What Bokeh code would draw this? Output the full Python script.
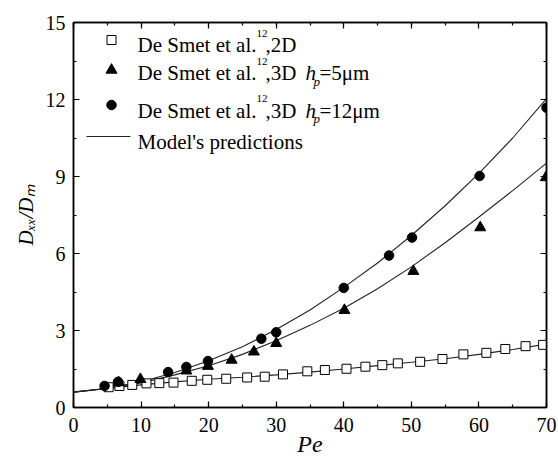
from bokeh.embed import file_html
from bokeh.models import (CustomJSTickFormatter, Label, LinearAxis, Range1d,
                          SingleIntervalTicker)
from bokeh.plotting import figure
from bokeh.resources import INLINE

# ---- measured dispersion data (De Smet et al.) ----
pe_2d = [5.2, 6.8, 8.7, 10.8, 12.7, 14.8, 17.5, 19.8, 22.6, 25.7, 28.3, 31.0,
         34.6, 37.2, 40.4, 43.2, 45.7, 48.0, 51.3, 54.6, 57.7, 61.1, 63.9,
         66.9, 69.5]
d_2d = [0.79, 0.84, 0.88, 0.94, 0.95, 0.97, 1.04, 1.08, 1.12, 1.17, 1.20,
        1.29, 1.41, 1.46, 1.51, 1.59, 1.65, 1.72, 1.78, 1.89, 2.07, 2.13,
        2.28, 2.39, 2.44]

pe_3d5 = [6.7, 9.9, 16.7, 19.9, 23.4, 26.7, 30.0, 40.1, 50.3, 60.2, 69.9]
d_3d5 = [0.97, 1.10, 1.43, 1.61, 1.85, 2.17, 2.50, 3.79, 5.31, 7.01, 8.96]

pe_3d12 = [4.6, 6.6, 14.0, 16.7, 19.9, 27.8, 30.0, 40.0, 46.7, 50.1, 60.1, 70.0]
d_3d12 = [0.84, 1.00, 1.38, 1.58, 1.81, 2.68, 2.93, 4.66, 5.92, 6.62, 9.02, 11.68]

# ---- model predictions ----
pe_model = [0, 5, 10, 15, 20, 25, 30, 35, 40, 45, 50, 55, 60, 65, 70]
model_2d = [0.60, 0.74, 0.88, 1.00, 1.10, 1.18, 1.27, 1.38, 1.50, 1.63, 1.76,
            1.90, 2.07, 2.26, 2.47]
model_3d5 = [0.60, 0.74, 0.96, 1.27, 1.63, 2.07, 2.60, 3.20, 3.87, 4.63, 5.48,
             6.42, 7.42, 8.45, 9.52]
model_3d12 = [0.60, 0.75, 1.00, 1.36, 1.82, 2.37, 3.04, 3.80, 4.68, 5.63, 6.70,
              7.86, 9.12, 10.50, 12.03]

x_ticks_step = 10
y_ticks_step = 3
x_title = "Pe"
y_title = "D\u2093\u2093/D\u2098"      # D_xx / D_m

SERIF = "Liberation Serif"

W, H = 558, 459
LEFT, RIGHT, TOP, BOTTOM = 73, 12, 22, 52
X_MAX, Y_MAX = 70, 15
FW, FH = W - LEFT - RIGHT, H - TOP - BOTTOM


def dx(px):
    """page x pixel -> data x"""
    return (px - LEFT) / FW * X_MAX


def dy(py):
    """page y pixel -> data y"""
    return (H - BOTTOM - py) / FH * Y_MAX


p = figure(width=W, height=H, output_backend="svg", toolbar_location=None,
           x_range=Range1d(0, X_MAX), y_range=Range1d(0, Y_MAX),
           min_border_left=LEFT, min_border_right=RIGHT,
           min_border_top=TOP, min_border_bottom=BOTTOM)
p.background_fill_color = "white"
p.border_fill_color = "white"
p.grid.visible = False
p.outline_line_color = "black"
p.outline_line_width = 1.5

xt = SingleIntervalTicker(interval=x_ticks_step, num_minor_ticks=2)
yt = SingleIntervalTicker(interval=y_ticks_step, num_minor_ticks=2)


def style_axis(ax, labels=True, standoff=8):
    ax.axis_line_color = "black"
    ax.axis_line_width = 1.5
    ax.major_tick_line_color = "black"
    ax.minor_tick_line_color = "black"
    ax.major_tick_line_width = 1.2
    ax.minor_tick_line_width = 1.2
    ax.major_tick_in = 6
    ax.major_tick_out = 0
    ax.minor_tick_in = 3
    ax.minor_tick_out = 0
    if labels:
        ax.major_label_text_font = SERIF
        ax.major_label_text_font_size = "20px"
        ax.major_label_text_color = "black"
        ax.major_label_standoff = standoff
        ax.axis_label_text_font = SERIF
        ax.axis_label_text_color = "black"
        ax.axis_label_text_font_style = "italic"
    else:
        ax.formatter = CustomJSTickFormatter(code="return ''")
        ax.major_label_standoff = 0
        ax.major_label_text_font_size = "1px"


p.xaxis.ticker = xt
p.yaxis.ticker = yt
for ax in p.xaxis:
    style_axis(ax, standoff=10)
    ax.axis_label = x_title
    ax.axis_label_text_font_size = "24px"
    ax.axis_label_standoff = -4
for ax in p.yaxis:
    style_axis(ax, standoff=8)
    ax.axis_label = y_title
    ax.axis_label_text_font_size = "21px"
    ax.axis_label_standoff = 5

top_ax = LinearAxis(ticker=xt)
right_ax = LinearAxis(ticker=yt)
style_axis(top_ax, labels=False)
style_axis(right_ax, labels=False)
p.add_layout(top_ax, "above")
p.add_layout(right_ax, "right")

# model curves
for ys in (model_2d, model_3d5, model_3d12):
    p.line(pe_model, ys, line_color="#222222", line_width=1.1)

# measured points
p.scatter(pe_2d, d_2d, marker="square", size=9, fill_color="white",
          line_color="black", line_width=1)
p.scatter(pe_3d5, d_3d5, marker="triangle", size=11, fill_color="black",
          line_color="black")
p.scatter(pe_3d12, d_3d12, marker="circle", size=9.5, fill_color="black",
          line_color="black")


def label(px, py, txt, size=21, style="normal"):
    p.add_layout(Label(x=dx(px), y=dy(py), text=txt, text_font=SERIF,
                       text_font_size=f"{size}px", text_font_style=style,
                       text_color="black", text_align="left",
                       text_baseline="alphabetic"))


# legend
rows = [39.5, 69.5, 104.5, 136]
baselines = [44.5, 72.5, 110, 141]
p.scatter([dx(111)], [dy(rows[0])], marker="square", size=9,
          fill_color="white", line_color="black", line_width=1)
p.scatter([dx(111)], [dy(rows[1])], marker="triangle", size=11,
          fill_color="black", line_color="black")
p.scatter([dx(111)], [dy(rows[2])], marker="circle", size=9.5,
          fill_color="black", line_color="black")
p.line([dx(86), dx(130)], [dy(rows[3]), dy(rows[3])], line_color="#222222",
       line_width=1.1)

TX = 137
for i, tail in enumerate([",2D", ",3D", ",3D"]):
    b = baselines[i]
    label(TX, b, "De Smet et al.")
    label(TX + 119, b - 12, "12", size=11)
    label(TX + 128, b, tail)
    if i > 0:
        label(TX + 168, b, "h", style="italic")
        label(TX + 176, b + 8, "p", size=13, style="italic")
        label(TX + 182, b, "=5\u03bcm" if i == 1 else "=12\u03bcm")
label(TX, baselines[3], "Model's predictions")

open("out.html", "w").write(file_html(p, INLINE))
